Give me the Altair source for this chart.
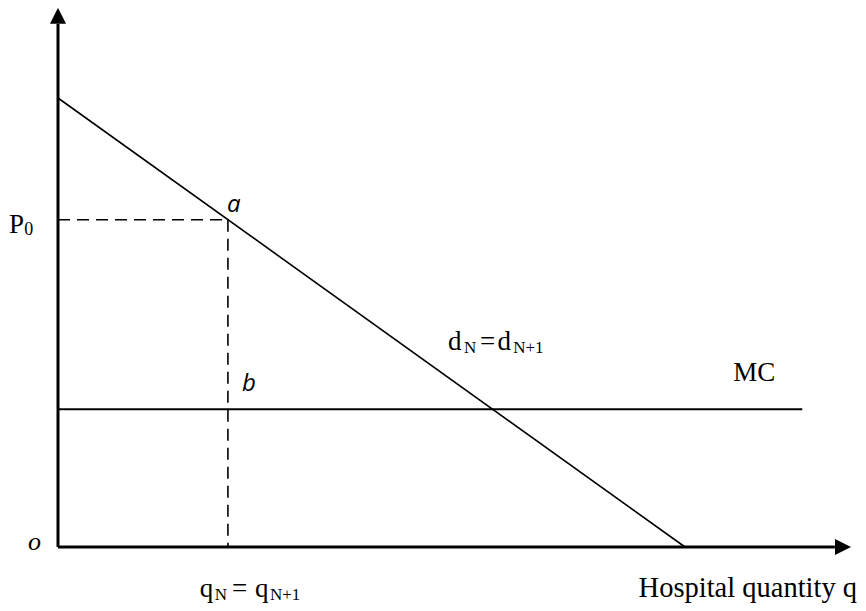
import altair as alt
import pandas as pd

# conceptual units: quantity q (0..100 = demand intercept), price p (0..100 = demand intercept)
demand_q = [0, 100]
demand_p = [100, 0]
q_n = 27.1
p_0 = 72.9
mc = 30.7
mc_end = 118.7
y_axis_end = 116.5
x_axis_end = 123.9
y_arrow = 118.3
x_arrow = 125.2

xs = alt.Scale(domain=[0, 100], range=[50, 677], zero=False, nice=False)
ys = alt.Scale(domain=[0, 100], range=[539, 90], zero=False, nice=False)


def seg(q, p, width, dash=None):
    df = pd.DataFrame({"q": q, "p": p, "o": list(range(len(q)))})
    kw = dict(color="black", strokeWidth=width, clip=False)
    if dash:
        kw["strokeDash"] = dash
    return alt.Chart(df).mark_line(**kw).encode(
        x=alt.X("q:Q", scale=xs, axis=None),
        y=alt.Y("p:Q", scale=ys, axis=None),
        order="o:Q",
    )


layers = [
    seg([0, 0], [0, y_axis_end], 3),
    seg([0, x_axis_end], [0, 0], 3),
    seg(demand_q, demand_p, 1.6),
    seg([0, mc_end], [mc, mc], 2),
    seg([0, q_n], [p_0, p_0], 1.6, [12, 7]),
    seg([q_n, q_n], [p_0, 0], 1.6, [12, 7]),
]

arrows = pd.DataFrame({
    "q": [0, x_arrow],
    "p": [y_arrow, 0],
    "shape": ["M0,-1L1,1L-1,1Z", "M1,0L-1,-1L-1,1Z"],
})
layers.append(
    alt.Chart(arrows).mark_point(filled=True, color="black", opacity=1, size=256, strokeWidth=0).encode(
        x=alt.X("q:Q", scale=xs, axis=None),
        y=alt.Y("p:Q", scale=ys, axis=None),
        shape=alt.Shape("shape:N", scale=None),
    )
)

# text labels: (text, q, p, size, font, style)
label_text = ["P", "0", "o", "a", "b", "d", "N", "=", "d", "N+1", "MC",
              "q", "N", "=", "q", "N+1", "Hospital quantity q"]
label_q = [-7.8, -5.4, -4.78, 26.95, 29.35, 62.2, 64.75, 67.3, 70.1, 72.6, 107.7,
           22.6, 25.0, 27.75, 31.4, 33.8, 92.6]
label_p = [69.9, 69.5, -0.67, 74.6, 34.7, 43.9, 43.2, 43.9, 43.9, 43.2, 37.0,
           -11.1, -11.8, -11.1, -11.1, -11.8, -11.1]
label_size = [27, 18, 26, 24, 24, 27, 17, 27, 27, 17, 27,
              27, 17, 27, 27, 17, 28.5]
label_font = ["Liberation Serif", "Liberation Serif", "Liberation Serif", "Open Sans", "Open Sans",
              "Liberation Serif", "Liberation Serif", "Liberation Serif", "Liberation Serif",
              "Liberation Serif", "Liberation Serif", "Liberation Serif", "Liberation Serif",
              "Liberation Serif", "Liberation Serif", "Liberation Serif", "Liberation Serif"]
label_style = ["normal", "normal", "italic", "italic", "italic"] + ["normal"] * 12

labels = pd.DataFrame({
    "t": label_text, "q": label_q, "p": label_p, "s": label_size,
    "f": label_font, "st": label_style,
})

for (f, st), sub in labels.groupby(["f", "st"]):
    layers.append(
        alt.Chart(sub).mark_text(
            align="left", baseline="alphabetic", color="black", font=f, fontStyle=st
        ).encode(
            x=alt.X("q:Q", scale=xs, axis=None),
            y=alt.Y("p:Q", scale=ys, axis=None),
            text="t:N",
            size=alt.Size("s:Q", scale=None, legend=None),
        )
    )

chart = alt.layer(*layers).properties(
    width=850, height=595, autosize=alt.AutoSizeParams(type="none"), padding=0
).configure_view(stroke=None)

chart.save("out.html", embed_options={"renderer": "svg", "actions": False})
